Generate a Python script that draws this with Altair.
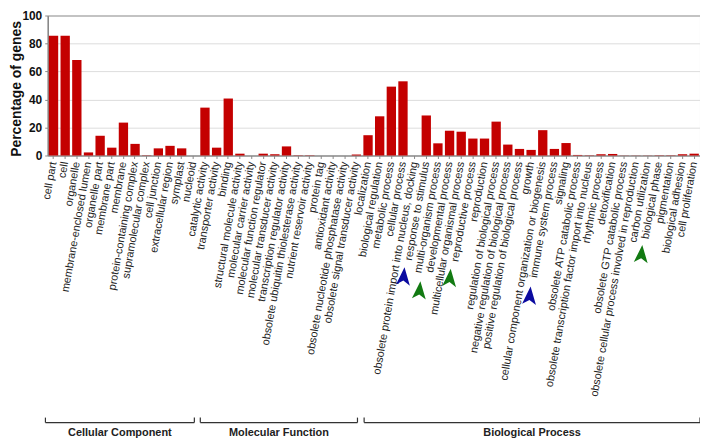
import altair as alt
import pandas as pd

# ---------------- data ----------------
cc_terms = ["cell part", "cell", "organelle", "membrane-enclosed lumen", "organelle part",
            "membrane part", "membrane", "protein-containing complex", "supramolecular complex",
            "cell junction", "extracellular region", "symplast", "nucleoid"]
cc_values = [85.5, 85.5, 68.2, 2.2, 14.1, 5.6, 23.5, 8.3, 0.2, 5.1, 6.9, 5.1, 0.0]

mf_terms = ["catalytic activity", "transporter activity", "binding", "structural molecule activity",
            "molecular carrier activity", "molecular function regulator", "molecular transducer activity",
            "transcription regulator activity", "obsolete ubiquitin thiolesterase activity",
            "nutrient reservoir activity", "protein tag", "antioxidant activity",
            "obsolete nucleotide phosphatase activity", "obsolete signal transducer activity"]
mf_values = [34.2, 5.6, 40.7, 1.3, 0.0, 1.3, 0.9, 6.5, 0.2, 0.2, 0.0, 0.0, 0.0, 0.7]

bp_terms = ["localization", "biological regulation", "metabolic process", "cellular process",
            "obsolete protein import into nucleus, docking", "response to stimulus",
            "multi-organism process", "developmental process", "multicellular organismal process",
            "reproductive process", "reproduction", "regulation of biological process",
            "negative regulation of biological process", "positive regulation of biological process",
            "growth", "cellular component organization or biogenesis", "immune system process",
            "signaling", "obsolete ATP catabolic process",
            "obsolete transcription factor import into nucleus", "rhythmic process", "detoxification",
            "obsolete GTP catabolic process", "obsolete cellular process involved in reproduction",
            "carbon utilization", "biological phase", "pigmentation", "biological adhesion",
            "cell proliferation"]
bp_values = [14.5, 28.0, 49.2, 53.0, 0.0, 28.6, 8.7, 17.7, 17.0, 12.1, 12.1, 24.2, 7.8, 4.7,
             4.0, 18.1, 4.7, 8.9, 0.4, 0.2, 0.9, 1.1, 0.1, 0.1, 0.1, 0.2, 0.2, 0.9, 1.3]

group_names = ["Cellular Component", "Molecular Function", "Biological Process"]
y_ticks = [0, 20, 40, 60, 80, 100]

# arrow annotations (term pointed at, colour)
arrow_terms = ["response to stimulus", "multi-organism process", "reproductive process",
               "immune system process", "biological phase"]
arrow_colors = ["#0b0ba0", "#127a12", "#127a12", "#0b0ba0", "#127a12"]

# ---------------- layout / style ----------------
FONT = "Liberation Sans"
W, H = 657, 141
# annotation pixel positions relative to plot origin
arrow_pos = [(358.5, 263.5), (374.5, 277.5), (405, 265), (485.5, 283), (598, 241)]
bracket_x = [(-2.3, 147.7), (153.7, 312.0), (318.7, 657.0)]
bracket_y, bracket_top, group_label_y = 410, 405, 421

terms = cc_terms + mf_terms + bp_terms
values = cc_values + mf_values + bp_values
groups = ([group_names[0]] * len(cc_terms) + [group_names[1]] * len(mf_terms)
          + [group_names[2]] * len(bp_terms))
df = pd.DataFrame({"term": terms, "value": values, "group": groups})

bars = alt.Chart(df).mark_bar(color="#c40000").encode(
    x=alt.X("term:N", sort=terms,
            scale=alt.Scale(paddingInner=0.2, paddingOuter=0.1),
            axis=alt.Axis(title=None, labelAngle=-80, labelFontSize=11, labelFont=FONT,
                          labelColor="#222222", labelLimit=400, labelPadding=3,
                          tickSize=3, tickColor="#888888", domainColor="#888888")),
    y=alt.Y("value:Q", scale=alt.Scale(domain=[0, 100], nice=False),
            axis=alt.Axis(values=y_ticks, title="Percentage of genes", titleFontSize=14,
                          titleFont=FONT, titleFontWeight="bold", titleColor="#111111",
                          titleX=-24, titleY=H / 2 + 3, titleAngle=-90,
                          labelFontSize=12, labelFont=FONT, labelFontWeight="bold",
                          labelColor="#111111", labelPadding=3, tickSize=3,
                          tickColor="#888888", domainColor="#888888",
                          grid=True, gridColor="#dddddd")),
)

one = pd.DataFrame({"a": [0]})
layers = [bars]

arrow_shape = "M0,-1 L0.7,0.8 L0,0.35 L-0.7,0.8 Z"
for (px, py), col in zip(arrow_pos, arrow_colors):
    layers.append(alt.Chart(one).mark_point(shape=arrow_shape, size=400, filled=True,
                                            color=col, opacity=1, angle=5).encode(
        x=alt.value(px), y=alt.value(py)))

for (x0, x1), name in zip(bracket_x, group_names):
    layers.append(alt.Chart(one).mark_rule(color="#333333", strokeWidth=1.2).encode(
        x=alt.value(x0), x2=alt.value(x1), y=alt.value(bracket_y)))
    for xe in (x0, x1):
        layers.append(alt.Chart(one).mark_rule(color="#333333", strokeWidth=1.2).encode(
            x=alt.value(xe), y=alt.value(bracket_top), y2=alt.value(bracket_y)))
    layers.append(alt.Chart(one).mark_text(font=FONT, fontSize=11, fontWeight="bold",
                                           color="#222222", baseline="middle",
                                           align="center").encode(
        x=alt.value((x0 + x1) / 2), y=alt.value(group_label_y), text=alt.value(name)))

chart = alt.layer(*layers).properties(
    width=W, height=H,
    autosize=alt.AutoSizeParams(type="none"),
    padding={"left": 40, "top": 6, "right": 0, "bottom": 287},
).configure_view(stroke="#555555", strokeWidth=1)

chart.save("out.html", embed_options={"renderer": "svg", "actions": False})
